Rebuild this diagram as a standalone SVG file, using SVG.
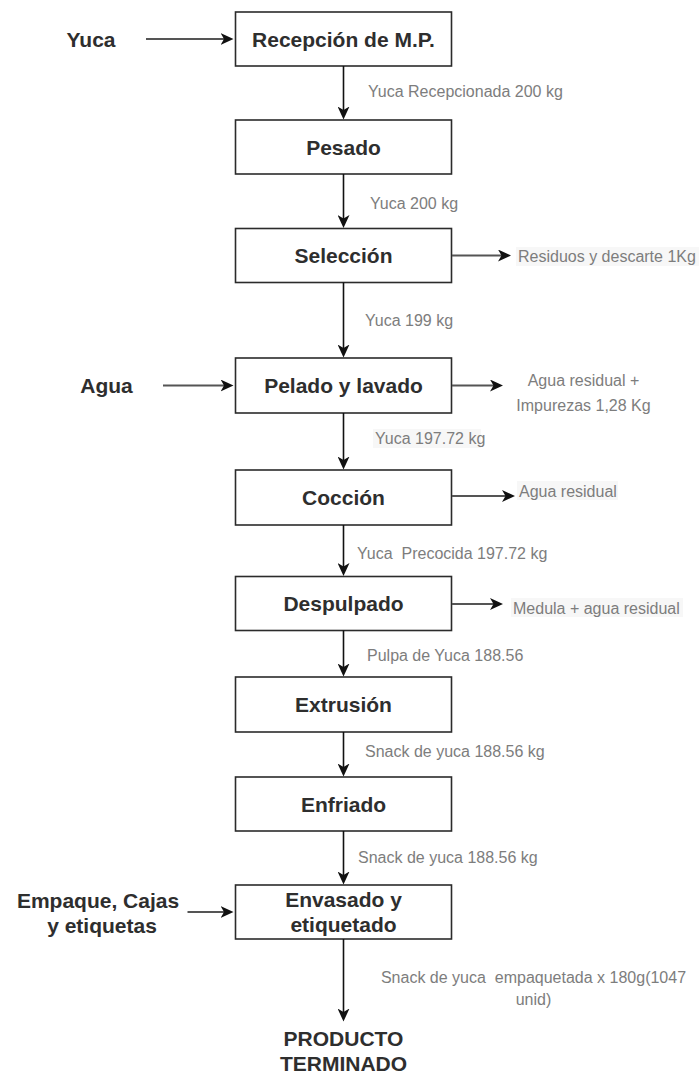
<svg xmlns="http://www.w3.org/2000/svg" width="700" height="1074" viewBox="0 0 700 1074">
  <style>
    .box rect { fill: #ffffff; stroke: #2b2b2b; stroke-width: 1.6; }
    .box text, .inp text, .end text { font-family: "Liberation Sans", Arial, sans-serif; font-size: 21px; font-weight: bold; fill: #2e2e2e; text-anchor: middle; }
    .lbl { font-family: "Liberation Sans", Arial, sans-serif; font-size: 16px; fill: #7d7d7d; }
    .lbl-bg { fill: #f7f7f7; }
    .flow { stroke: #111111; stroke-width: 1.6; fill: none; marker-end: url(#arrow); }
    .side { stroke: #555555; stroke-width: 2; fill: none; marker-end: url(#arrow); }
  </style>
  <defs>
    <marker id="arrow" markerUnits="userSpaceOnUse" viewBox="0 0 13 12" markerWidth="13" markerHeight="12" refX="9" refY="6" orient="auto">
      <path d="M0,0 L13,6 L0,12 L3.5,6 Z" fill="#111111"/>
    </marker>
  </defs>

  <rect width="700" height="1074" fill="#ffffff"/>

  <!-- process steps -->
  <g id="recepcion" class="box">
    <rect x="235.5" y="12" width="216" height="54"/>
    <text x="343.5" y="46.5">Recepción de M.P.</text>
  </g>
  <g id="pesado" class="box">
    <rect x="235.5" y="120" width="216" height="54"/>
    <text x="343.5" y="154.5">Pesado</text>
  </g>
  <g id="seleccion" class="box">
    <rect x="235.5" y="228.5" width="216" height="54"/>
    <text x="343.5" y="262.5">Selección</text>
  </g>
  <g id="pelado" class="box">
    <rect x="235.5" y="358" width="216" height="55"/>
    <text x="343.5" y="393">Pelado y lavado</text>
  </g>
  <g id="coccion" class="box">
    <rect x="235.5" y="470" width="216" height="55"/>
    <text x="343.5" y="505">Cocción</text>
  </g>
  <g id="despulpado" class="box">
    <rect x="235.5" y="576.5" width="216" height="54"/>
    <text x="343.5" y="611">Despulpado</text>
  </g>
  <g id="extrusion" class="box">
    <rect x="235.5" y="677" width="216" height="55"/>
    <text x="343.5" y="712">Extrusión</text>
  </g>
  <g id="enfriado" class="box">
    <rect x="235.5" y="777" width="216" height="54"/>
    <text x="343.5" y="811.5">Enfriado</text>
  </g>
  <g id="envasado" class="box">
    <rect x="235.5" y="885" width="216" height="54"/>
    <text x="343.5" y="906.5">Envasado y</text>
    <text x="343.5" y="932">etiquetado</text>
  </g>

  <!-- inputs -->
  <g id="in-yuca" class="inp">
    <text x="91" y="46.5">Yuca</text>
  </g>
  <g id="in-agua" class="inp">
    <text x="106.5" y="393">Agua</text>
  </g>
  <g id="in-empaque" class="inp">
    <text x="98" y="908">Empaque, Cajas</text>
    <text x="102" y="933">y etiquetas</text>
  </g>

  <!-- final product -->
  <g id="producto" class="end">
    <text x="343.5" y="1045.5">PRODUCTO</text>
    <text x="343.5" y="1071">TERMINADO</text>
  </g>

  <!-- outputs -->
  <g id="out-residuos">
    <rect class="lbl-bg" x="516" y="247" width="183" height="19"/>
    <text class="lbl" x="518" y="262">Residuos y descarte 1Kg</text>
  </g>
  <g id="out-agua-impurezas">
    <text class="lbl" x="583.5" y="386" text-anchor="middle">Agua residual +</text>
    <text class="lbl" x="583.5" y="411" text-anchor="middle">Impurezas 1,28 Kg</text>
  </g>
  <g id="out-agua">
    <rect class="lbl-bg" x="517" y="481" width="101" height="19"/>
    <text class="lbl" x="519" y="496.5">Agua residual</text>
  </g>
  <g id="out-medula">
    <rect class="lbl-bg" x="511" y="598" width="172" height="19"/>
    <text class="lbl" x="513" y="614">Medula + agua residual</text>
  </g>

  <!-- connectors -->
  <g id="connectors">
    <line class="side" x1="146" y1="39" x2="229.5" y2="39"/>
    <line class="side" x1="163" y1="385.5" x2="229.5" y2="385.5"/>
    <line class="side" x1="187.5" y1="912" x2="229.5" y2="912"/>

    <line class="side" x1="452" y1="255.5" x2="507" y2="255.5"/>
    <line class="side" x1="452" y1="385.5" x2="499" y2="385.5"/>
    <line class="side" x1="452" y1="496" x2="511" y2="496"/>
    <line class="side" x1="452" y1="604" x2="499" y2="604"/>

    <line class="flow" x1="343.5" y1="66" x2="343.5" y2="115.5"/>
    <line class="flow" x1="343.5" y1="174" x2="343.5" y2="224"/>
    <line class="flow" x1="343.5" y1="282.5" x2="343.5" y2="353.5"/>
    <line class="flow" x1="343.5" y1="413" x2="343.5" y2="465.5"/>
    <line class="flow" x1="343.5" y1="525" x2="343.5" y2="572"/>
    <line class="flow" x1="343.5" y1="630.5" x2="343.5" y2="672.5"/>
    <line class="flow" x1="343.5" y1="732" x2="343.5" y2="772.5"/>
    <line class="flow" x1="343.5" y1="831" x2="343.5" y2="880.5"/>
    <line class="flow" x1="343.5" y1="939" x2="343.5" y2="1017.5"/>

    <!-- connector labels -->
    <text class="lbl" x="368" y="97">Yuca Recepcionada 200 kg</text>
    <text class="lbl" x="370" y="209">Yuca 200 kg</text>
    <text class="lbl" x="365" y="326">Yuca 199 kg</text>
    <rect class="lbl-bg" x="373" y="429" width="108" height="19"/>
    <text class="lbl" x="375" y="444">Yuca 197.72 kg</text>
    <text class="lbl" x="357" y="559" xml:space="preserve">Yuca  Precocida 197.72 kg</text>
    <text class="lbl" x="367" y="661">Pulpa de Yuca 188.56</text>
    <text class="lbl" x="365" y="757">Snack de yuca 188.56 kg</text>
    <text class="lbl" x="358" y="863">Snack de yuca 188.56 kg</text>
    <text class="lbl" x="533.5" y="983" text-anchor="middle" xml:space="preserve">Snack de yuca  empaquetada x 180g(1047</text>
    <text class="lbl" x="533.5" y="1005" text-anchor="middle">unid)</text>
  </g>
</svg>
